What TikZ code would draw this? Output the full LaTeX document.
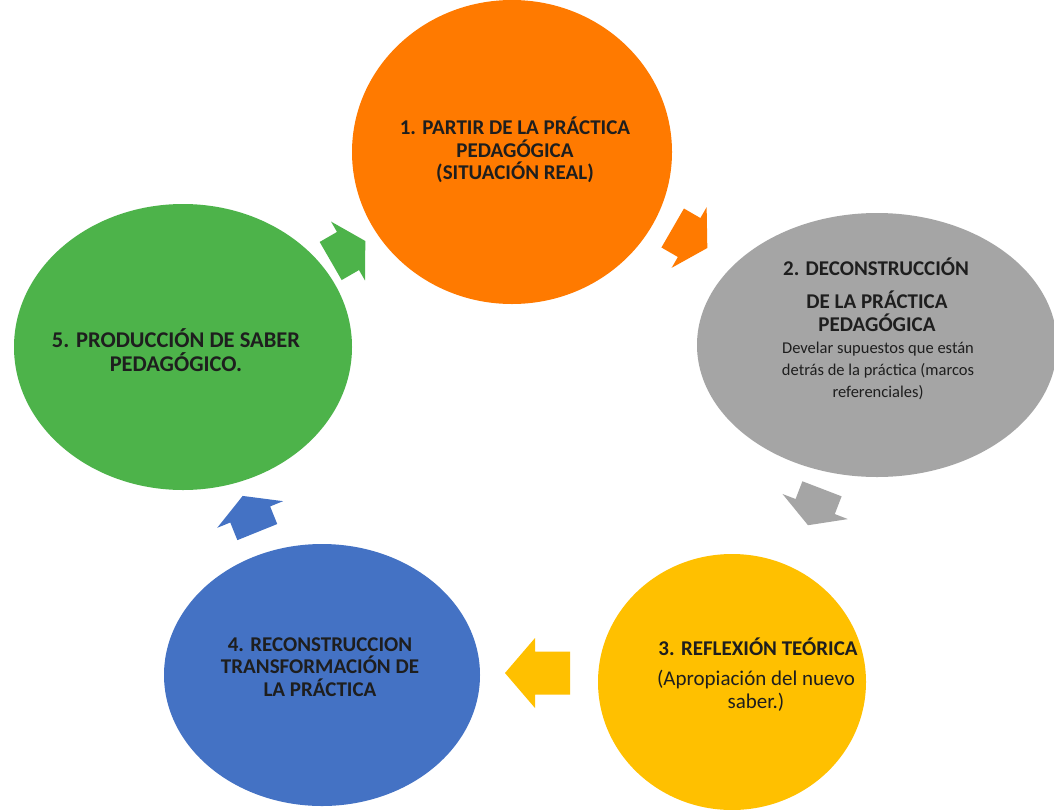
\documentclass[tikz,border=0pt]{standalone}
\usepackage{fontspec}
\setmainfont{Carlito}
\usetikzlibrary{shapes.geometric}
\definecolor{corange}{HTML}{FF7A00}
\definecolor{cgray}{HTML}{A5A5A5}
\definecolor{cyellow}{HTML}{FFC000}
\definecolor{cblue}{HTML}{4472C4}
\definecolor{cgreen}{HTML}{4DB34A}
\definecolor{ctext}{HTML}{1E1E1E}
\begin{document}
\begin{tikzpicture}[x=1pt,y=-1pt,
  blob/.style={ellipse,draw=none,inner sep=0pt},
  boldlabel/.style={align=center,text=ctext,inner sep=0pt,
    font=\bfseries\fontsize{21}{22.5}\selectfont},
  plainlabel/.style={align=center,text=ctext,inner sep=0pt},
  pics/blockarrow/.style n args={5}{code={
    % #1 length, #2 head width, #3 shaft width, #4 head length, #5 colour
    \fill[#5] (-#1/2,-#3/2) -- (#1/2-#4,-#3/2) -- (#1/2-#4,-#2/2) -- (#1/2,0)
      -- (#1/2-#4,#2/2) -- (#1/2-#4,#3/2) -- (-#1/2,#3/2) -- cycle;}}]
\useasboundingbox (0,0) rectangle (1054,809);
\fill[white] (0,0) rectangle (1054,809);
% ellipses
\node[blob,fill=corange,minimum width=320pt,minimum height=304pt] (e1) at (512,152) {};
\node[blob,fill=cgray,minimum width=360pt,minimum height=264pt] (e2) at (877,345) {};
\node[blob,fill=cyellow,minimum width=268pt,minimum height=256pt] (e3) at (732,682) {};
\node[blob,fill=cblue,minimum width=316pt,minimum height=262pt] (e4) at (322,675) {};
\node[blob,fill=cgreen,minimum width=338pt,minimum height=286pt] (e5) at (183,347) {};
% block arrows
\pic[rotate=-30] at (690,238) {blockarrow={40}{70}{45}{21}{corange}};
\pic[rotate=-111] at (815,507) {blockarrow={39}{70}{42}{20}{cgray}};
\pic[rotate=180] at (537.5,673) {blockarrow={65}{70}{43}{30}{cyellow}};
\pic[rotate=112] at (250,514) {blockarrow={39}{71}{43}{20}{cblue}};
\pic[rotate=30] at (348,251) {blockarrow={40}{68}{44}{20}{cgreen}};
% texts
\node[boldlabel] (t1) at (515,150)
  {1. PARTIR DE LA PRÁCTICA\\PEDAGÓGICA\\(SITUACIÓN REAL)};
\node[boldlabel] (t2a) at (876,267) {2. DECONSTRUCCIÓN};
\node[boldlabel] (t2b) at (877,311) {DE LA PRÁCTICA\\PEDAGÓGICA};
\node[plainlabel,font=\fontsize{16.5}{22}\selectfont] (t2c) at (878,371)
  {Develar supuestos que están\\detrás de la práctica (marcos\\referenciales)};
\node[boldlabel] (t3a) at (758,647) {3. REFLEXIÓN TEÓRICA};
\node[plainlabel,font=\fontsize{21}{22.5}\selectfont] (t3b) at (756,691)
  {(Apropiación del nuevo\\saber.)};
\node[boldlabel] (t4) at (320,667)
  {4. RECONSTRUCCION\\TRANSFORMACIÓN DE\\LA PRÁCTICA};
\node[boldlabel,font=\bfseries\fontsize{22.5}{24}\selectfont] (t5) at (176,350)
  {5. PRODUCCIÓN DE SABER\\PEDAGÓGICO.};
\end{tikzpicture}
\end{document}
